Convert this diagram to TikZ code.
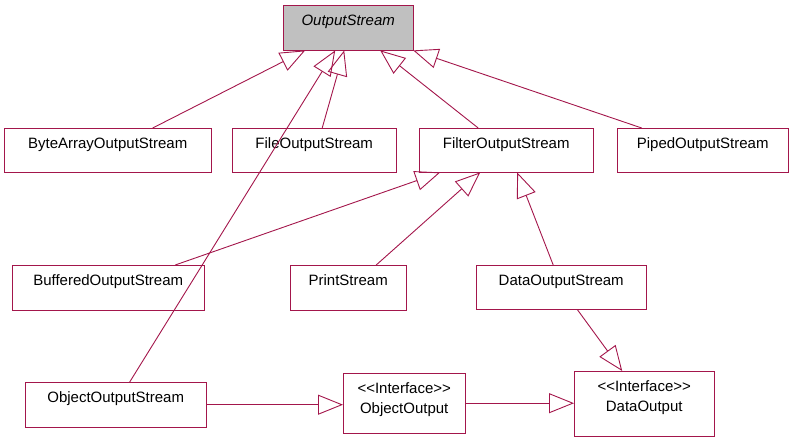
\documentclass[tikz,border=0pt]{standalone}
\usepackage{fontspec}
\setmainfont{Liberation Sans}[Ligatures=TeXOff]
\usetikzlibrary{arrows.meta}
\definecolor{RoseLine}{HTML}{A3164B}
\definecolor{AbstractGray}{HTML}{C0C0C0}

\begin{document}
\begin{tikzpicture}[x=1pt, y=-1pt, >={Triangle[open, length=25pt, width=20pt]},
  every node/.style={font=\fontsize{15}{20}\selectfont},
  classbox/.style={draw=RoseLine, rectangle, anchor=north west, inner ysep=9pt, text height=11pt, text depth=15pt},
  ifacebox/.style={draw=RoseLine, rectangle, anchor=north west, align=center, inner ysep=9pt, text height=31pt},
  inherit/.style={->, RoseLine, line width=0.9pt}]
  \useasboundingbox (0,0) rectangle (789,437);

  % Nodes
  \node [classbox, fill=AbstractGray, minimum width=130pt, minimum height=45pt, font=\fontsize{15}{20}\selectfont\itshape] (outstream) at (283,5) {OutputStream};
  \node [classbox, minimum width=207pt] (bytearray) at (4,128) {ByteArrayOutputStream};
  \node [classbox, minimum width=164pt] (fileout) at (232,128) {FileOutputStream};
  \node [classbox, minimum width=174pt] (filterout) at (419,128) {FilterOutputStream};
  \node [classbox, minimum width=171pt] (pipedout) at (617,128) {PipedOutputStream};
  \node [classbox, minimum width=192pt, minimum height=45pt] (buffered) at (12,265) {BufferedOutputStream};
  \node [classbox, minimum width=116pt, minimum height=45pt] (printstr) at (290,265) {PrintStream};
  \node [classbox, minimum width=170pt] (dataoutstream) at (476,265) {DataOutputStream};
  \node [classbox, minimum width=181pt, minimum height=45pt] (objoutstream) at (25,382) {ObjectOutputStream};
  \node [ifacebox, minimum width=122pt, text depth=11pt] (objoutput) at (343,373) {<<Interface>>\\ObjectOutput};
  \node [ifacebox, minimum width=140pt, text depth=16pt] (dataoutput) at (574,371) {<<Interface>>\\DataOutput};

  % Paths
  \draw [inherit] ([xshift=45pt]bytearray.north) -- ([xshift=-43pt]outstream.south);
  \draw [inherit] ([xshift=14pt]objoutstream.north) -- ([xshift=-13pt]outstream.south);
  \draw [inherit] ([xshift=8pt]fileout.north) -- ([xshift=-4pt]outstream.south);
  \draw [inherit] ([xshift=-28pt]filterout.north) -- ([xshift=32pt]outstream.south);
  \draw [inherit] ([xshift=-61pt]pipedout.north) -- ([xshift=65pt]outstream.south);
  \draw [inherit] ([xshift=67pt]buffered.north) -- ([xshift=-66pt]filterout.south);
  \draw [inherit] ([xshift=28pt]printstr.north) -- ([xshift=-26pt]filterout.south);
  \draw [inherit] ([xshift=-8pt]dataoutstream.north) -- ([xshift=11pt]filterout.south);
  \draw [inherit] ([xshift=16pt]dataoutstream.south) -- ([xshift=-22pt]dataoutput.north);
  \draw [inherit] (objoutstream.east) -- (objoutstream.east -| objoutput.west);
  \draw [inherit] (objoutput.east) -- (objoutput.east -| dataoutput.west);
\end{tikzpicture}
\end{document}
